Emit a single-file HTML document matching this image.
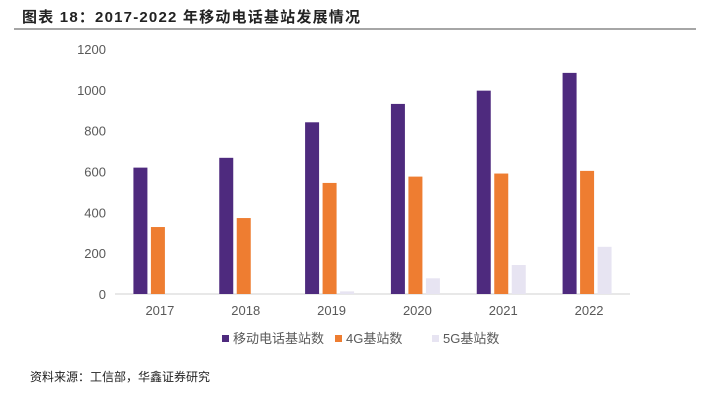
<!DOCTYPE html>
<html><head><meta charset="utf-8"><style>
body{margin:0;background:#fff;width:710px;height:400px;overflow:hidden;font-family:"Liberation Sans","Noto Sans CJK SC",sans-serif}
</style></head><body>
<svg width="710" height="400">
<text x="22" y="22" font-size="15" font-weight="bold" fill="#222" textLength="338" font-family="'Liberation Sans','Noto Sans CJK SC',sans-serif">图表 18：2017-2022 年移动电话基站发展情况</text>
<line x1="14" y1="29" x2="696" y2="29" stroke="#888" stroke-width="1.5"/>
<g id="plot"></g>
<text x="30" y="381" font-size="12" fill="#222" font-family="'Liberation Sans','Noto Sans CJK SC',sans-serif">资料来源：工信部，华鑫证券研究</text>
</svg>
<script>
const categories=["2017","2018","2019","2020","2021","2022"];
const mobile=[619,667,841,931,996,1083];
const g4=[328,372,544,575,590,603];
const g5=[0,0,13,77,142,231];
const yTicks=[0,200,400,600,800,1000,1200];
const seriesNames=["移动电话基站数","4G基站数","5G基站数"];
const colors=["#4e2a7e","#ee7d31","#e7e4f2"];
const NS="http://www.w3.org/2000/svg";
const plot=document.getElementById('plot');
const x0=115,x1=630,y0=294,yTop=49,ymax=1200;
const y=v=>y0-(v/ymax)*(y0-yTop);
const slot=(x1-x0)/categories.length;
const xc=i=>x0+slot*(i+0.5);
function mk(t,a){const e=document.createElementNS(NS,t);for(const k in a)e.setAttribute(k,a[k]);plot.appendChild(e);return e;}
yTicks.forEach(v=>{const t=mk('text',{x:106,y:y(v)+5,'text-anchor':'end','font-size':13,fill:'#595959'});t.textContent=v;

});
const ax=mk('line',{x1:x0,y1:y0,x2:x1,y2:y0,stroke:'#d0d0d0','stroke-width':1});


const all=[mobile,g4,g5];const bw=14,gap=3.5;
categories.forEach((c,i)=>{
 const t=mk('text',{x:xc(i)+2,y:y0+21,'text-anchor':'middle','font-size':13,fill:'#595959'});t.textContent=c;
 
 
 all.forEach((s,j)=>{const bx=xc(i)-bw*1.5-gap+j*(bw+gap);
  const r=mk('rect',{x:bx,y:y(s[i]),width:bw,height:y0-y(s[i]),fill:colors[j]});
  
  });
});
const lx=[222,335,432];
seriesNames.forEach((n,j)=>{
 const r=mk('rect',{x:lx[j],y:335,width:7,height:7,fill:colors[j]});
 
 
 const t=mk('text',{x:lx[j]+11,y:343,'font-size':13,fill:'#595959'});t.textContent=n;
 
 
});
</script>
</body></html>
